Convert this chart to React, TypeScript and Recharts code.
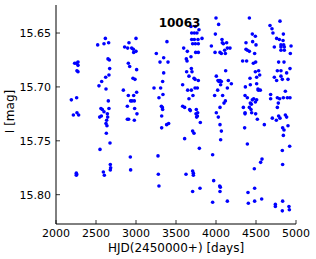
import React from 'react';
import { ScatterChart, Scatter, XAxis, YAxis } from 'recharts';

const hjd: number[] = [
  2192, 2217, 2233, 2254, 2275, 2275, 2262, 2275, 2258, 2262, 2283, 2254, 2258, 2254,
  2521, 2617, 2600, 2658, 2667, 2650, 2671, 2662, 2621, 2571, 2537, 2625, 2654, 2562, 2579, 2662,
  2600, 2546, 2567, 2642, 2646, 2633, 2625, 2637, 2629, 2675, 2550, 2592, 2604, 2679, 2683, 2679,
  2912, 2858, 2896, 2946, 2967, 3000, 3000, 2971, 2904, 2921, 3008, 2962, 2987, 2842, 3008, 2904,
  2971, 2950, 2979, 2933, 2892, 2983, 3012, 2892, 2908, 2979, 2929, 2933,
  3387, 3254, 3346, 3300, 3400, 3346, 3333, 3225, 3308, 3337, 3287, 3317, 3329, 3333, 3321, 3408,
  3383, 3321, 3275, 3279, 3287,
  3687, 3742, 3787, 3762, 3696, 3729, 3696, 3729, 3775, 3825, 3742, 3779, 3708, 3596, 3629, 3638,
  3642, 3687, 3746, 3779, 3692, 3700, 3633, 3662, 3725, 3779, 3738, 3583, 3646, 3692, 3738, 3767,
  3662, 3712, 3583, 3608, 3671, 3679, 3754, 3771, 3750, 3767, 3758, 3804, 3708, 3725, 3608, 3792,
  3625, 3708, 3717, 3717, 3708, 3800,
  4000, 4033, 3992, 3942, 4075, 4079, 4133, 4092, 4142, 4108, 4175, 3988, 4050, 4067, 4117, 4004,
  4025, 4050, 4037, 4067, 4154, 4192, 4121, 4058, 4021, 4142, 3983, 4083, 4117, 4050, 4100, 4004,
  4029, 4050, 4067, 4058, 3958, 3971, 4046, 4054, 4050, 3958, 4142,
  4417, 4454, 4492, 4375, 4458, 4500, 4375, 4417, 4392, 4483, 4333, 4383, 4467, 4496, 4492, 4533,
  4546, 4425, 4508, 4367, 4429, 4508, 4525, 4529, 4554, 4363, 4392, 4454, 4471, 4508, 4429, 4442,
  4492, 4342, 4417, 4438, 4363, 4446, 4496, 4363, 4517, 4604, 4358, 4392, 4479, 4558, 4575, 4483,
  4400, 4483, 4404, 4571,
  4675, 4700, 4712, 4800, 4842, 4758, 4792, 4838, 4812, 4846, 4812, 4854, 4938, 4729, 4812, 4854,
  4929, 4783, 4850, 4925, 4767, 4812, 4883, 4729, 4758, 4812, 4829, 4900, 4867, 4683, 4842, 4767,
  4892, 4925, 4796, 4683, 4779, 4767, 4867, 4883, 4783, 4704, 4754, 4800, 4900, 4833, 4850, 4842,
  4921, 4829, 4833, 4742, 4742, 4833, 4829, 4912, 4917,
];

const imag: number[] = [
  15.712, 15.726, 15.678, 15.678, 15.677, 15.680, 15.685, 15.686, 15.710, 15.724, 15.726, 15.780, 15.781, 15.782,
  15.661, 15.655, 15.660, 15.659, 15.675, 15.674, 15.683, 15.689, 15.691, 15.695, 15.699, 15.702, 15.713, 15.720, 15.721, 15.720,
  15.723, 15.728, 15.727, 15.725, 15.728, 15.731, 15.734, 15.736, 15.743, 15.752, 15.758, 15.779, 15.782, 15.772, 15.775, 15.777,
  15.659, 15.663, 15.664, 15.664, 15.665, 15.655, 15.667, 15.668, 15.678, 15.681, 15.684, 15.692, 15.693, 15.703, 15.705, 15.708,
  15.708, 15.713, 15.713, 15.713, 15.718, 15.720, 15.725, 15.730, 15.730, 15.731, 15.765, 15.777,
  15.658, 15.669, 15.673, 15.677, 15.677, 15.687, 15.695, 15.701, 15.701, 15.707, 15.710, 15.718, 15.719, 15.721, 15.727, 15.734,
  15.735, 15.738, 15.764, 15.781, 15.792,
  15.644, 15.644, 15.647, 15.650, 15.650, 15.650, 15.656, 15.656, 15.656, 15.655, 15.660, 15.660, 15.660, 15.664, 15.674, 15.676,
  15.667, 15.672, 15.668, 15.668, 15.683, 15.686, 15.686, 15.690, 15.692, 15.694, 15.693, 15.698, 15.703, 15.703, 15.701, 15.701,
  15.711, 15.708, 15.718, 15.719, 15.721, 15.722, 15.721, 15.724, 15.725, 15.727, 15.728, 15.733, 15.741, 15.743, 15.748, 15.757,
  15.781, 15.778, 15.780, 15.782, 15.797, 15.794,
  15.636, 15.642, 15.651, 15.662, 15.656, 15.659, 15.659, 15.660, 15.664, 15.666, 15.664, 15.668, 15.668, 15.669, 15.669, 15.690,
  15.694, 15.694, 15.695, 15.695, 15.694, 15.697, 15.685, 15.698, 15.703, 15.701, 15.708, 15.708, 15.713, 15.719, 15.715, 15.724,
  15.728, 15.735, 15.741, 15.749, 15.763, 15.787, 15.792, 15.793, 15.797, 15.807, 15.806,
  15.636, 15.651, 15.653, 15.659, 15.658, 15.661, 15.665, 15.667, 15.666, 15.669, 15.676, 15.676, 15.678, 15.677, 15.686, 15.685,
  15.689, 15.692, 15.691, 15.700, 15.698, 15.697, 15.702, 15.703, 15.703, 15.708, 15.710, 15.712, 15.711, 15.712, 15.715, 15.716,
  15.714, 15.719, 15.719, 15.721, 15.724, 15.724, 15.725, 15.725, 15.730, 15.735, 15.738, 15.753, 15.776, 15.770, 15.767, 15.794,
  15.798, 15.806, 15.808, 15.804,
  15.643, 15.646, 15.650, 15.639, 15.651, 15.655, 15.656, 15.657, 15.661, 15.661, 15.663, 15.663, 15.662, 15.663, 15.666, 15.666,
  15.669, 15.677, 15.677, 15.683, 15.685, 15.685, 15.687, 15.691, 15.694, 15.690, 15.693, 15.693, 15.704, 15.707, 15.710, 15.710,
  15.710, 15.710, 15.711, 15.711, 15.715, 15.719, 15.726, 15.728, 15.727, 15.729, 15.731, 15.729, 15.736, 15.738, 15.740, 15.745,
  15.755, 15.759, 15.772, 15.809, 15.811, 15.806, 15.815, 15.811, 15.814,
];

const xTicks = [2000, 2500, 3000, 3500, 4000, 4500, 5000];
const yTicks = [15.65, 15.7, 15.75, 15.8];
const title = '10063';
const xLabel = 'HJD(2450000+) [days]';
const yLabel = 'I [mag]';

const data = hjd.map((x, i) => ({ x, y: imag[i] }));

const FONT = '"DejaVu Sans", sans-serif';
const TM = 5; // tick margin
const TL = 4; // inward tick length

const BottomTick = (p: any) => (
  <g>
    <line x1={p.x} x2={p.x} y1={p.y - TM} y2={p.y - TM - TL} stroke="#000" strokeWidth={0.8} />
    <text x={p.x} y={p.y} dy="0.72em" textAnchor="middle" fontSize={11} fontFamily={FONT} fill="#000">
      {p.payload.value}
    </text>
  </g>
);
const TopTick = (p: any) => (
  <line x1={p.x} x2={p.x} y1={p.y} y2={p.y + TL} stroke="#000" strokeWidth={0.8} />
);
const LeftTick = (p: any) => (
  <g>
    <line x1={p.x + TM} x2={p.x + TM + TL} y1={p.y} y2={p.y} stroke="#000" strokeWidth={0.8} />
    <text x={p.x} y={p.y} dy="0.36em" textAnchor="end" fontSize={11} fontFamily={FONT} fill="#000">
      {Number(p.payload.value).toFixed(2)}
    </text>
  </g>
);
const RightTick = (p: any) => (
  <line x1={p.x} x2={p.x - TL} y1={p.y} y2={p.y} stroke="#000" strokeWidth={0.8} />
);

const Dot = (p: any) => <circle cx={p.cx} cy={p.cy} r={1.8} fill="#0000ff" />;

export default function App() {
  return (
    <div style={{ position: 'absolute', left: 0, top: 0, width: 316, height: 259, background: '#fff' }}>
      <ScatterChart width={316} height={259} margin={{ top: 5, right: 20, bottom: 0, left: 0 }}>
        <XAxis
          xAxisId="b"
          type="number"
          dataKey="x"
          domain={[2000, 5000]}
          ticks={xTicks}
          allowDataOverflow
          height={35}
          tickSize={0}
          tickMargin={TM}
          tick={BottomTick}
          tickLine={false}
          axisLine={{ stroke: '#000', strokeWidth: 1 }}
          label={{
            content: (lp: any) => (
              <text
                x={lp.viewBox.x + lp.viewBox.width / 2}
                y={lp.viewBox.y + 28}
                textAnchor="middle"
                fontSize={12}
                fontFamily={FONT}
                fill="#000"
              >
                {xLabel}
              </text>
            ),
          }}
        />
        <XAxis
          xAxisId="t"
          orientation="top"
          type="number"
          dataKey="x"
          domain={[2000, 5000]}
          ticks={xTicks}
          allowDataOverflow
          height={0}
          tickSize={0}
          tickMargin={0}
          tick={TopTick}
          tickLine={false}
          axisLine={{ stroke: '#000', strokeWidth: 1 }}
        />
        <YAxis
          yAxisId="l"
          type="number"
          dataKey="y"
          domain={[15.624, 15.8272]}
          reversed
          ticks={yTicks}
          allowDataOverflow
          width={56}
          tickSize={0}
          tickMargin={TM}
          tick={LeftTick}
          tickLine={false}
          axisLine={{ stroke: '#000', strokeWidth: 1 }}
          label={{
            content: (lp: any) => {
              const cx = lp.viewBox.x + 14;
              const cy = lp.viewBox.y + lp.viewBox.height / 2 - 3;
              return (
                <text
                  x={cx}
                  y={cy}
                  transform={`rotate(-90, ${cx}, ${cy})`}
                  textAnchor="middle"
                  fontSize={12}
                  fontFamily={FONT}
                  fill="#000"
                >
                  {yLabel}
                </text>
              );
            },
          }}
        />
        <YAxis
          yAxisId="r"
          orientation="right"
          type="number"
          dataKey="y"
          domain={[15.624, 15.8272]}
          reversed
          ticks={yTicks}
          allowDataOverflow
          width={0}
          tickSize={0}
          tickMargin={0}
          tick={RightTick}
          tickLine={false}
          axisLine={{ stroke: '#000', strokeWidth: 1 }}
        />
        <Scatter data={data} xAxisId="b" yAxisId="l" shape={Dot} isAnimationActive={false} />
      </ScatterChart>
      <div
        style={{
          position: 'absolute',
          left: 179.5,
          top: 22.5,
          transform: 'translate(-50%, -50%)',
          fontFamily: FONT,
          fontSize: 12,
          fontWeight: 'bold',
          lineHeight: 1,
          color: '#000',
          whiteSpace: 'nowrap',
          pointerEvents: 'none',
        }}
      >
        {title}
      </div>
    </div>
  );
}
